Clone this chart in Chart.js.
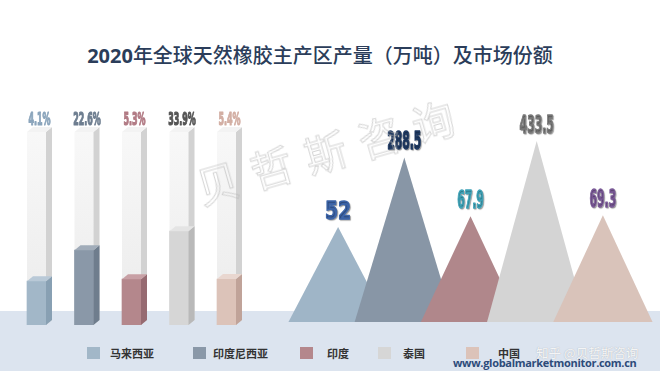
<!DOCTYPE html>
<html><head><meta charset="utf-8">
<script src="https://cdn.jsdelivr.net/npm/chart.js@4.4.1/dist/chart.umd.min.js"></script>
<style>
html,body{margin:0;padding:0}
body{width:660px;height:371px;overflow:hidden;background:#fff;position:relative;font-family:'Noto Sans CJK SC','Noto Sans',sans-serif}
#band{position:absolute;left:0;top:311px;width:660px;height:60px;background:#dce4ef}
#title{position:absolute;left:0;top:41px;width:640px;text-align:center;font-size:20px;line-height:28px;color:#2b3d5a;font-weight:500;white-space:nowrap}
#title b{font-family:'Open Sans','Noto Sans',sans-serif;font-weight:700}
#shareWrap{position:absolute;left:0;top:95px;width:260px;height:240px}
#outWrap{position:absolute;left:280px;top:90px;width:380px;height:240px}
.lgbox{position:absolute;top:347px;width:13px;height:12px}
.lgtxt{position:absolute;top:345px;font-size:11px;line-height:16px;font-weight:700;color:#333;white-space:nowrap}
#wm{position:absolute;left:165px;top:126px;width:320px;height:50px;line-height:50px;text-align:center;font-size:42px;letter-spacing:14px;padding-left:14px;box-sizing:border-box;color:transparent;-webkit-text-stroke:1px rgba(185,185,185,0.6);transform:rotate(-16deg);z-index:5;pointer-events:none;white-space:nowrap}
#url{position:absolute;left:453px;top:355px;font-family:'Open Sans','Noto Sans',sans-serif;font-weight:700;font-size:11px;letter-spacing:-0.3px;line-height:16px;color:#2d4b7a;white-space:nowrap;z-index:6}
#zh{position:absolute;left:536px;top:345px;font-size:12.5px;line-height:16px;color:rgba(255,255,255,0.9);text-shadow:0 0 1px rgba(90,90,90,0.45);white-space:nowrap;z-index:6}
</style>
</head>
<body>
<div id="band"></div>
<div id="title"><b>2020</b>年全球天然橡胶主产区产量（万吨）及市场份额</div>
<div id="shareWrap"><canvas id="shareChart" width="260" height="240"></canvas></div>
<div id="outWrap"><canvas id="outChart" width="380" height="240"></canvas></div>
<div id="legend"></div>
<div id="wm">贝哲斯咨询</div>
<div id="zh">知乎 @贝哲斯咨询</div>
<div id="url">www.globalmarketmonitor.com.cn</div>
<script>
// ---- data ----
const countries = ['马来西亚', '印度尼西亚', '印度', '泰国', '中国'];
const marketShare = [4.1, 22.6, 5.3, 33.9, 5.4];          // 市场份额 %
const output2020 = [52, 288.5, 67.9, 433.5, 69.3];        // 产量 万吨
const shareLabels = marketShare.map(v => v.toFixed(1) + '%');
const outputLabels = output2020.map(v => String(v));

// ---- styles ----
const frontColors = ['#a2b7c8', '#8a98a8', '#b4878c', '#d6d6d6', '#dcc3b9'];
const sideColors  = ['#88a0b3', '#6f7d8d', '#966a71', '#b9b9b9', '#c0a399'];
const topColors   = ['#b9c9d7', '#a1acb9', '#c8a0a5', '#e4e4e4', '#e9d7d0'];
const shareLabelColors = ['#8ba5bc', '#6e7e90', '#b27b85', '#555555', '#d3afa4'];
const peakColors = ['#9fb5c7', '#8896a6', '#b0878b', '#d4d4d4', '#d9c3ba'];
const outputLabelColors = ['#3d65a9', '#1f3a63', '#3fa4b9', '#7a7a7a', '#7b5a98'];
const outputLabelSqueeze = [0.78, 0.45, 0.45, 0.45, 0.45];
const legendBoxX = [87, 193, 300, 378, 466];
const legendTextX = [110, 213, 327, 403, 498];
const DX = 6, DY = 5;

// legend
const lg = document.getElementById('legend');
countries.forEach((c, i) => {
  const b = document.createElement('div');
  b.className = 'lgbox'; b.style.left = legendBoxX[i] + 'px'; b.style.background = frontColors[i];
  const t = document.createElement('div');
  t.className = 'lgtxt'; t.style.left = legendTextX[i] + 'px'; t.textContent = c;
  lg.appendChild(b); lg.appendChild(t);
});

function faces(ctx, x0, x1, top, bottom, side, topC) {
  ctx.fillStyle = side;
  ctx.beginPath();
  ctx.moveTo(x1, top); ctx.lineTo(x1 + DX, top - DY); ctx.lineTo(x1 + DX, bottom - DY); ctx.lineTo(x1, bottom);
  ctx.closePath(); ctx.fill();
  ctx.fillStyle = topC;
  ctx.beginPath();
  ctx.moveTo(x0, top); ctx.lineTo(x0 + DX, top - DY); ctx.lineTo(x1 + DX, top - DY); ctx.lineTo(x1, top);
  ctx.closePath(); ctx.fill();
}

const column3d = {
  id: 'column3d',
  beforeDatasetsDraw(chart) {
    const ctx = chart.ctx, {top, bottom} = chart.chartArea;
    ctx.save();
    chart.getDatasetMeta(0).data.forEach(bar => {
      const {x, width} = bar.getProps(['x', 'width'], true);
      const x0 = x - width / 2, x1 = x + width / 2;
      const g = ctx.createLinearGradient(0, top, 0, bottom);
      g.addColorStop(0, '#f8f8f8'); g.addColorStop(1, '#ebebeb');
      ctx.fillStyle = g;
      ctx.fillRect(x0, top, width, bottom - top);
      faces(ctx, x0, x1, top, bottom, '#d2d2d2', '#f3f3f3');
    });
    ctx.restore();
  },
  afterDatasetsDraw(chart) {
    const ctx = chart.ctx;
    ctx.save();
    chart.getDatasetMeta(0).data.forEach((bar, i) => {
      const {x, y, base, width} = bar.getProps(['x', 'y', 'base', 'width'], true);
      faces(ctx, x - width / 2, x + width / 2, y, base, sideColors[i], topColors[i]);
    });
    ctx.font = 'bold 17px "DejaVu Sans"';
    ctx.textAlign = 'center'; ctx.textBaseline = 'alphabetic';
    ctx.lineJoin = 'round';
    chart.getDatasetMeta(0).data.forEach((bar, i) => {
      ctx.save();
      ctx.translate(bar.x + 3, chart.chartArea.top - 7);
      ctx.scale(0.47, 1);
      ctx.fillStyle = shareLabelColors[i];
      ctx.strokeStyle = shareLabelColors[i];
      ctx.lineWidth = 1.2;
      ctx.fillText(shareLabels[i], 0, 0);
      ctx.strokeText(shareLabels[i], 0, 0);
      ctx.restore();
    });
    ctx.restore();
  }
};

const peaks = {
  id: 'peaks',
  afterDatasetsDraw(chart) {
    const ctx = chart.ctx, bars = chart.getDatasetMeta(0).data;
    ctx.save();
    bars.forEach((bar, i) => {
      const {x, y, base, width} = bar.getProps(['x', 'y', 'base', 'width'], true);
      const half = width * 0.75;
      ctx.fillStyle = peakColors[i];
      ctx.beginPath();
      ctx.moveTo(x - half, base); ctx.lineTo(x, y); ctx.lineTo(x + half, base);
      ctx.closePath(); ctx.fill();
    });
    ctx.font = 'bold 24px "DejaVu Sans"';
    ctx.textAlign = 'center'; ctx.textBaseline = 'alphabetic';
    ctx.lineJoin = 'round';
    bars.forEach((bar, i) => {
      ctx.save();
      ctx.translate(bar.x, bar.y - 8);
      ctx.scale(outputLabelSqueeze[i], 1);
      ctx.shadowColor = 'rgba(0,0,0,0.3)'; ctx.shadowOffsetX = 1; ctx.shadowOffsetY = 1; ctx.shadowBlur = 1;
      ctx.fillStyle = outputLabelColors[i];
      ctx.strokeStyle = outputLabelColors[i];
      ctx.lineWidth = 1.4;
      ctx.fillText(outputLabels[i], 0, 0);
      ctx.strokeText(outputLabels[i], 0, 0);
      ctx.restore();
    });
    ctx.restore();
  }
};

new Chart(document.getElementById('shareChart'), {
  type: 'bar',
  data: {
    labels: countries,
    datasets: [{
      data: marketShare,
      backgroundColor: frontColors,
      borderWidth: 0,
      barThickness: 19,
      base: -22
    }]
  },
  options: {
    responsive: false, animation: false, events: [],
    layout: {padding: {left: 12.75, right: 9.75, top: 37, bottom: 10}},
    plugins: {legend: {display: false}, tooltip: {enabled: false}, title: {display: false}},
    scales: {
      x: {display: false},
      y: {display: false, min: -22, max: 93, bounds: 'data'}
    }
  },
  plugins: [column3d]
});

new Chart(document.getElementById('outChart'), {
  type: 'bar',
  data: {
    labels: countries,
    datasets: [{
      data: output2020,
      backgroundColor: 'rgba(0,0,0,0)',
      borderWidth: 0,
      barPercentage: 1,
      categoryPercentage: 1
    }]
  },
  options: {
    responsive: false, animation: false, events: [],
    layout: {padding: {left: 25, right: 24, top: 17, bottom: 8}},
    plugins: {legend: {display: false}, tooltip: {enabled: false}, title: {display: false}},
    scales: {
      x: {display: false},
      y: {type: 'logarithmic', display: false, min: 5, max: 1000, bounds: 'data'}
    }
  },
  plugins: [peaks]
});
</script>
</body></html>
